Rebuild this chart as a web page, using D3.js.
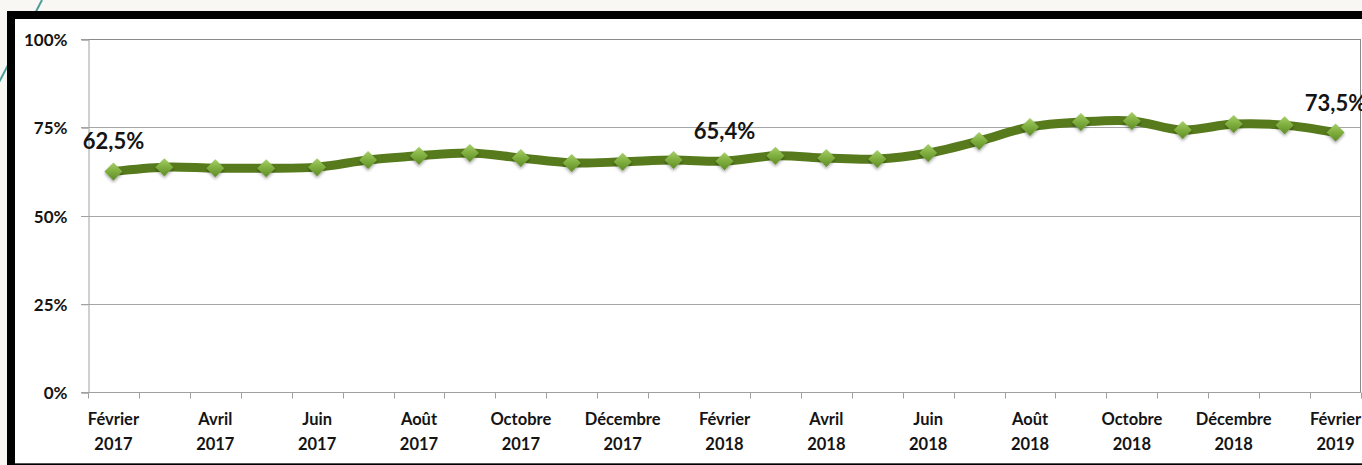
<!DOCTYPE html>
<html>
<head>
<meta charset="utf-8">
<script src="https://cdn.jsdelivr.net/npm/d3@7/dist/d3.min.js"></script>
<style>
html,body{margin:0;padding:0;background:#f8f7f3;}
svg{display:block;}
</style>
</head>
<body>
<svg id="chart" width="1362" height="465"></svg>
<script>
const months = ["Février","Mars","Avril","Mai","Juin","Juillet","Août","Septembre","Octobre","Novembre","Décembre","Janvier",
  "Février","Mars","Avril","Mai","Juin","Juillet","Août","Septembre","Octobre","Novembre","Décembre","Janvier","Février"];
const years = ["2017","2017","2017","2017","2017","2017","2017","2017","2017","2017","2017","2018",
  "2018","2018","2018","2018","2018","2018","2018","2018","2018","2018","2018","2019","2019"];
const values = [62.5,63.7,63.4,63.4,63.7,65.7,66.9,67.7,66.3,64.9,65.2,65.7,
  65.4,66.9,66.3,66.0,67.7,71.1,75.1,76.5,76.8,74.2,75.9,75.6,73.5];
const yTicks = [0,25,50,75,100];
const labelled = [0,12,24];

const svg = d3.select("#chart");
const W = 1362, H = 465;
const cats = months.map((m,i)=>i);

// background decor
svg.append("line").attr("x1",42).attr("y1",0).attr("x2",-5).attr("y2",90)
  .attr("stroke","#4f9c98").attr("stroke-width",2);
svg.append("rect").attr("x",7).attr("y",11).attr("width",W-7).attr("height",H-11).attr("fill","#000");
svg.append("rect").attr("x",15).attr("y",19).attr("width",W-15).attr("height",444).attr("fill","#fff");
svg.append("line").attr("x1",15).attr("x2",W).attr("y1",463.5).attr("y2",463.5).attr("stroke","#555").attr("stroke-width",1);

const x = d3.scaleBand().domain(cats).range([88,1361]).padding(0);
const y = d3.scaleLinear().domain([0,100]).range([392,39]);

const defs = svg.append("defs");
const grad = defs.append("linearGradient").attr("id","mk").attr("x1","0").attr("y1","0").attr("x2","0").attr("y2","1");
grad.append("stop").attr("offset","0%").attr("stop-color","#a6cf6a");
grad.append("stop").attr("offset","50%").attr("stop-color","#7fae3e");
grad.append("stop").attr("offset","100%").attr("stop-color","#5f8c27");
const f = defs.append("filter").attr("id","sh").attr("x","-50%").attr("y","-50%").attr("width","200%").attr("height","200%");
f.append("feDropShadow").attr("dx",0).attr("dy",2).attr("stdDeviation",1.5).attr("flood-color","#000").attr("flood-opacity",0.35);

// gridlines
const grid = svg.append("g");
grid.selectAll("line").data(yTicks.filter(d=>d>0)).join("line")
  .attr("x1",81).attr("x2",1361)
  .attr("y1",d=>Math.round(y(d))+0.5).attr("y2",d=>Math.round(y(d))+0.5)
  .attr("stroke",d=>d===100?"#8a8a8a":"#a6a6a6").attr("stroke-width",1);

// right border of plot
svg.append("line").attr("x1",1360.5).attr("x2",1360.5).attr("y1",39).attr("y2",392).attr("stroke","#8a8a8a");

// y axis
const yAxis = d3.axisLeft(y).tickValues(yTicks).tickSize(7).tickFormat(d=>d+"%");
const gy = svg.append("g").attr("transform","translate(88.5,0.5)").call(yAxis);
gy.select(".domain").attr("stroke","#a0a0a0");
gy.selectAll(".tick line").attr("stroke","#a0a0a0");
gy.selectAll(".tick text").attr("x",-21).attr("dy","0.36em")
  .attr("font-family","Lato").attr("font-weight","bold").attr("font-size",17).attr("fill","#141414");

// x axis
const gx = svg.append("g").attr("transform","translate(0,392.5)");
gx.append("line").attr("x1",81).attr("x2",1361).attr("stroke","#a0a0a0");
const tickPos = cats.map(c=>x(c)).concat([x(cats[cats.length-1])+x.bandwidth()]);
gx.selectAll("line.tk").data(tickPos).join("line").attr("class","tk")
  .attr("x1",d=>Math.round(d)+0.5).attr("x2",d=>Math.round(d)+0.5).attr("y1",0).attr("y2",6)
  .attr("stroke","#a0a0a0");
const lab = gx.selectAll("text").data(cats.filter(i=>i%2===0)).join("text")
  .attr("text-anchor","middle")
  .attr("font-family","Lato").attr("font-weight","bold").attr("font-size",16.5).attr("fill","#141414");
lab.append("tspan").attr("x",d=>x(d)+x.bandwidth()/2).attr("y",32).text(d=>months[d]);
lab.append("tspan").attr("x",d=>x(d)+x.bandwidth()/2).attr("y",57).text(d=>years[d]);

// line
const cx = i=>x(i)+x.bandwidth()/2;
const line = d3.line().x((d,i)=>cx(i)).y(d=>y(d)).curve(d3.curveCatmullRom.alpha(0.5));
svg.append("path").datum(values).attr("d",line).attr("fill","none")
  .attr("stroke","#567a1c").attr("stroke-width",9).attr("stroke-linejoin","round").attr("stroke-linecap","round");

// markers
const s = 9;
svg.append("g").selectAll("path").data(values).join("path")
  .attr("transform",(d,i)=>`translate(${cx(i)},${y(d)})`)
  .attr("d",`M0,${-s}L${s},0L0,${s}L${-s},0Z`)
  .attr("fill","url(#mk)").attr("filter","url(#sh)");

// data labels
svg.append("g").selectAll("text").data(labelled).join("text")
  .attr("x",i=>cx(i)).attr("y",i=>y(values[i])-22)
  .attr("text-anchor","middle")
  .attr("font-family","Lato").attr("font-weight","bold").attr("font-size",22).attr("fill","#141414")
  .text(i=>values[i].toFixed(1).replace(".",",")+"%");
</script>
</body>
</html>
